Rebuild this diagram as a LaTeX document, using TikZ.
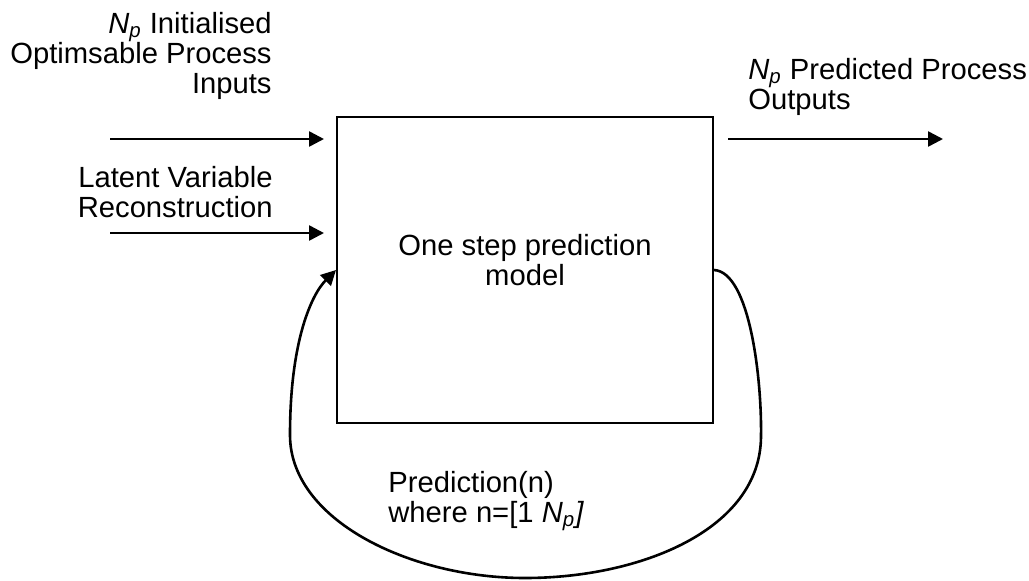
\documentclass[tikz,border=0pt]{standalone}
\usepackage{fontspec}
\setmainfont{Liberation Sans}
\usetikzlibrary{arrows.meta,positioning,calc}
\newcommand{\Np}{\textit{N\textsubscript{p}}}

\begin{document}
\begin{tikzpicture}[x=0.5pt,y=-0.5pt,
  every node/.style={font=\fontsize{14.6}{14.9}\selectfont,inner sep=0pt},
  flow/.style={-{Triangle[length=7.5pt,width=7.5pt]},line width=1.3pt}]
  \useasboundingbox (0,0) rectangle (1029,580);
  % model block
  \node[draw,line width=1pt,minimum width=188pt,minimum height=153pt] (model) at (525,270) {};
  \node[align=center,anchor=north] (modeltext) at (525,234) {One step prediction\\model};
  % labels
  \node[align=right,anchor=north east] (inlabel) at (272,12) {\Np{} Initialised\\Optimsable Process\\Inputs};
  \node[align=right,anchor=north east] (lvlabel) at (273,166) {Latent Variable\\Reconstruction};
  \node[align=left,anchor=north west] (outlabel) at (748,58) {\Np{} Predicted Process\\Outputs};
  \node[align=left,anchor=north west] (looplabel) at (388,471) {Prediction(n)\\where n=[1 \textit{N\textsubscript{p}]}};
  % inputs and output
  \foreach \y/\n in {139/a,233/b}
    {\coordinate (in\n) at (110,\y);
     \draw[flow,shorten >=6pt] (in\n) -- (in\n -| model.west);}
  \coordinate (out) at (943,139);
  \draw[flow,shorten <=7pt] (out -| model.east) -- (out);
  % prediction loop
  \draw[flow] (model.east) .. controls (750,272) and (762,380) .. (761,437)
    .. controls (760,530) and (640,578) .. (525,578)
    .. controls (410,578) and (290,520) .. (290,435)
    .. controls (290,340) and (312,294) .. (model.west);
\end{tikzpicture}
\end{document}
